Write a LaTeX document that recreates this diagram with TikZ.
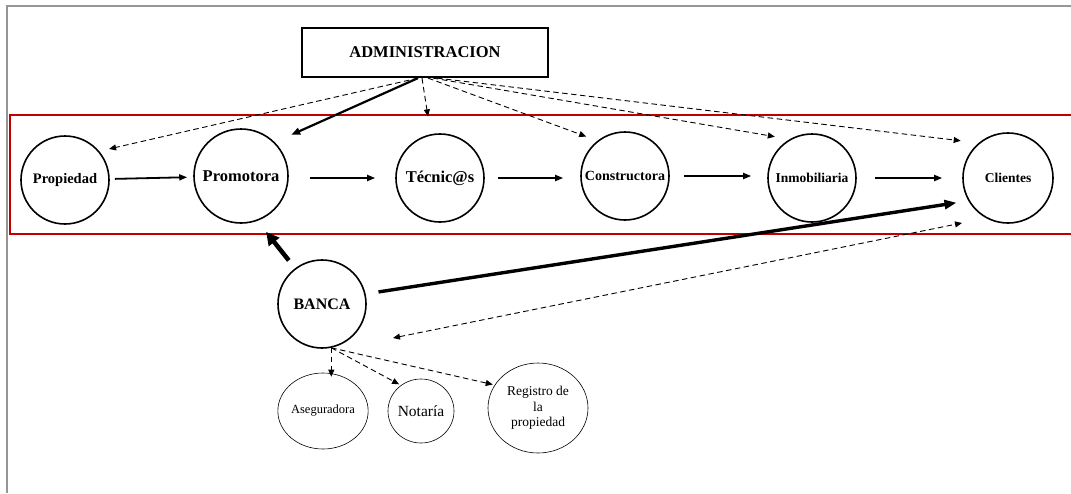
\documentclass[tikz,border=0pt]{standalone}
\usepackage{fontspec}
\setmainfont{Liberation Serif}
\usetikzlibrary{arrows.meta,shapes.geometric}
\definecolor{framegray}{RGB}{150,150,150}
\definecolor{boxred}{RGB}{192,0,0}
\begin{document}
\begin{tikzpicture}[x=1pt,y=-1pt,
  circ/.style={draw, circle, line width=1.6pt, inner sep=0pt, minimum size=88pt},
  sub/.style={draw, ellipse, line width=0.6pt, inner sep=0pt},
  flow/.style={-{Triangle[length=8pt,width=6pt]}, line width=1.8pt},
  dsh/.style={dash pattern=on 5.5pt off 3.5pt, line width=0.9pt, -{Triangle[length=7pt,width=6pt]}},
  dshb/.style={dash pattern=on 5.5pt off 3.5pt, line width=0.9pt, {Triangle[length=7pt,width=6pt]}-{Triangle[length=7pt,width=6pt]}},
  fs/.style={font=\bfseries\fontsize{#1}{#1}\selectfont},
  fr/.style={font=\fontsize{#1}{#1}\selectfont},
]
\useasboundingbox (0,0) rectangle (1071,493);
% page frame
\draw[framegray, line width=2.2pt] (1071,6) -- (7,6) -- (7,493);
% red band
\draw[boxred, line width=2.8pt] (1075,115) -| (10,234) -- (1075,234);

% nodes
\node[draw, line width=2.2pt, minimum width=246pt, minimum height=49pt, fs=16.5] (adm) at (425,52.5) {ADMINISTRACION};
\node[circ, fs=14.5] (prop) at (65,180) {Propiedad};
\node[circ, minimum size=94pt, fs=16.5] (prom) at (241,176) {Promotora};
\node[circ, fs=16.5] (tec) at (440,178) {Técnic@s};
\node[circ, fs=14] (cons) at (625,176) {Constructora};
\node[circ, fs=13.5] (inm) at (812,178) {Inmobiliaria};
\node[circ, minimum size=90pt, fs=13.5] (cli) at (1008,178) {Clientes};
\node[circ, fs=16] (banca) at (322,304) {BANCA};
\node[sub, minimum width=81pt, minimum height=76pt, fr=12.5] (ase) at (323,411) {Aseguradora};
\node[sub, minimum width=66pt, minimum height=64pt, fr=15.5] (nota) at (421,411) {Notaría};
\node[sub, minimum width=100pt, minimum height=90pt, fr=13.5, align=center] (reg) at (538,408) {Registro de\\[2pt]la\\[2pt]propiedad};
\coordinate (bfree) at (393,338);
\coordinate (cfree) at (962,223);

% horizontal flow
\draw[flow, shorten <=5pt, shorten >=6pt] (prop) -- (prom);
\draw[flow, shorten <=21pt, shorten >=20pt] (prom.east |- tec) -- (tec);
\draw[flow, shorten <=13pt, shorten >=17pt] (tec) -- (cons.west |- tec) ;
\draw[flow, shorten <=14pt, shorten >=16pt] (cons) -- (inm.west |- cons);
\draw[flow, shorten <=18pt, shorten >=20pt] (inm.east |- cli) -- (cli);

% from ADMINISTRACION
\draw[dsh, shorten >=10pt] ([xshift=-7pt]adm.south) -- (prop.40);
\draw[-{Triangle[length=9pt,width=7pt]}, line width=2.2pt, shorten >=18pt] ([xshift=-7pt]adm.south) -- (prom.45);
\draw[dsh, shorten >=18pt] ([xshift=-3pt]adm.south) -- (tec.102);
\draw[dsh, shorten >=12pt] ([xshift=3pt]adm.south) -- (cons.128);
\draw[dsh, shorten >=15pt] ([xshift=8pt]adm.south) -- (inm.120);
\draw[dsh, shorten >=18pt] ([xshift=12pt]adm.south) -- (cli.130);

% from BANCA
\draw[-{Triangle[length=13pt,width=13pt]}, line width=4.5pt, shorten <=10pt, shorten >=14pt] (banca.127) -- (prom.-70);
\draw[-{Triangle[length=12pt,width=9pt]}, line width=3.4pt, shorten <=13pt, shorten >=12pt] (banca.13) -- (cli.-150);
\draw[dshb] (bfree) -- (cfree);
\draw[dsh, shorten >=-4pt] (banca.-78) -- (banca.-78 |- ase.north);
\draw[dsh, shorten >=2pt] (banca.-78) -- (nota.128);
\draw[dsh, shorten >=2pt] (banca.-78) -- (reg.152);
\end{tikzpicture}
\end{document}
